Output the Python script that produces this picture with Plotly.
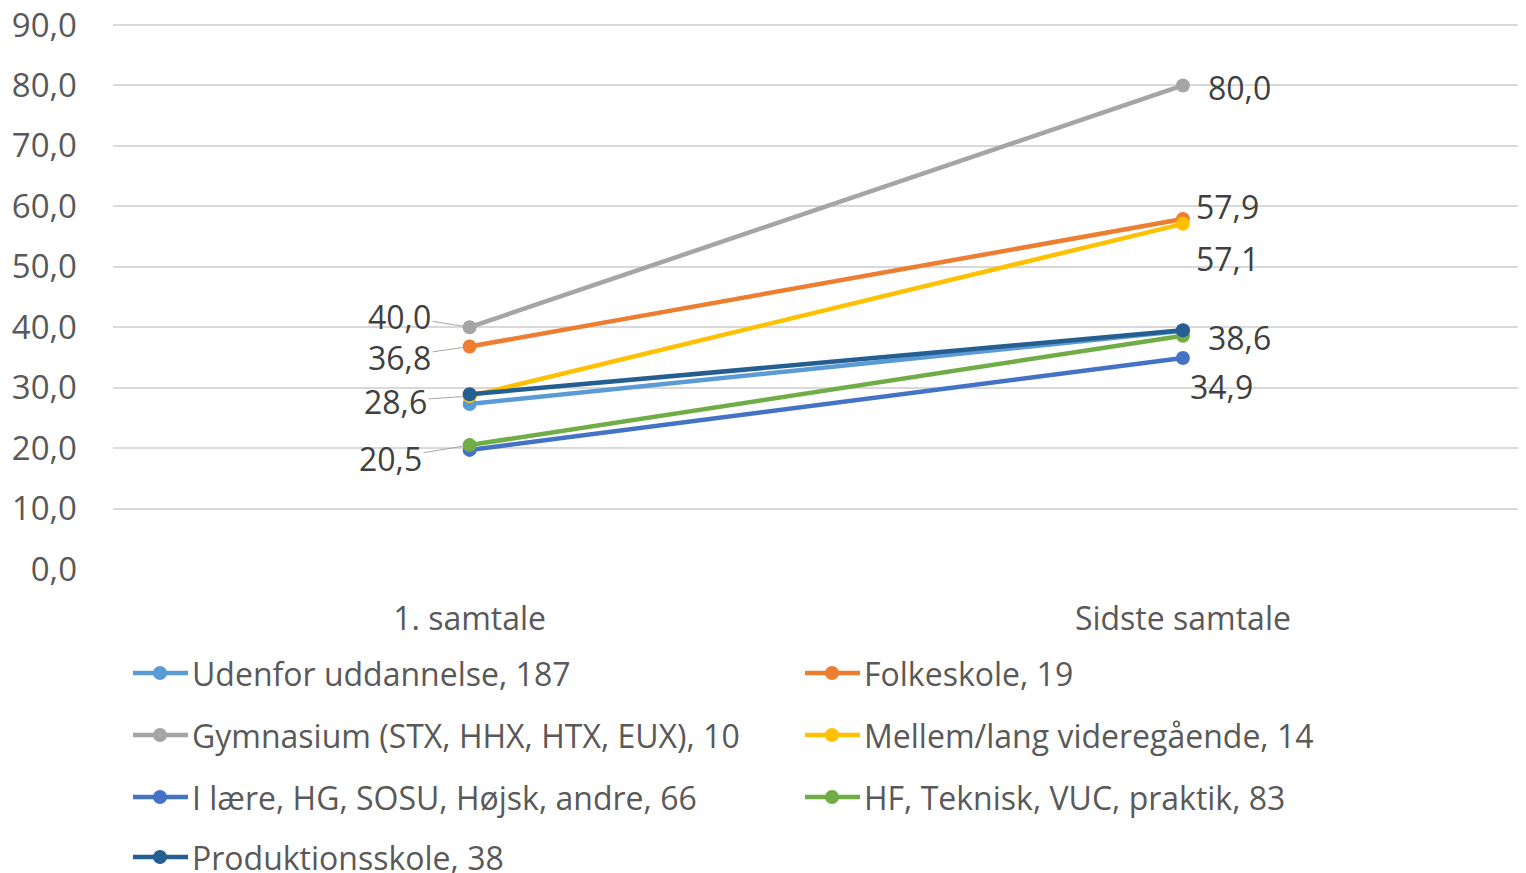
import plotly.graph_objects as go

categories = ["1. samtale", "Sidste samtale"]

series_names = [
    "Udenfor uddannelse, 187",
    "Folkeskole, 19",
    "Gymnasium (STX, HHX, HTX, EUX), 10",
    "Mellem/lang videregående, 14",
    "I lære, HG, SOSU, Højsk, andre, 66",
    "HF, Teknisk, VUC, praktik, 83",
    "Produktionsskole, 38",
]
udenfor = [27.3, 39.4]
folkeskole = [36.8, 57.9]
gymnasium = [40.0, 80.0]
mellem = [28.6, 57.1]
i_laere = [19.7, 34.9]
hf = [20.5, 38.6]
produktion = [28.9, 39.5]
series_values = [udenfor, folkeskole, gymnasium, mellem, i_laere, hf, produktion]
colors = ["#5B9BD5", "#ED7D31", "#A5A5A5", "#FFC000", "#4472C4", "#70AD47", "#255E91"]

y_ticks = [0, 10, 20, 30, 40, 50, 60, 70, 80, 90]
y_tick_labels = ["0,0", "10,0", "20,0", "30,0", "40,0", "50,0", "60,0", "70,0", "80,0", "90,0"]

FONT = "Open Sans"
FS = 32
TXT = "#595959"
LBL = "#404040"

# the page puts the plot 8px in from the top-left corner
OFF = 8
W, H = 1526 - OFF, 873 - OFF
ML, MR, MT, MB = 113 - OFF, 0, 23 - OFF, 304
PW, PH = W - ML - MR, H - MT - MB


def px_x(p):
    return (p - OFF - ML) / PW


def px_y(p):
    return (H - MB - (p - OFF)) / PH


fig = go.Figure()
for name, vals, col in zip(series_names, series_values, colors):
    fig.add_trace(go.Scatter(
        x=categories, y=vals, name=name, mode="lines+markers",
        line=dict(color=col, width=4.5),
        marker=dict(color=col, size=14),
        showlegend=False,
    ))


def fmt(v):
    return f"{v:.1f}".replace(".", ",")


# left labels with leader lines: (series index, ax, ay)
left_labels = [(2, -70, -11), (1, -70, 10), (3, -74, 5), (5, -79, 13)]
for idx, ax, ay in left_labels:
    fig.add_annotation(
        x=categories[0], y=series_values[idx][0], text=fmt(series_values[idx][0]),
        showarrow=True, arrowhead=0, arrowwidth=1, arrowcolor="#A6A6A6",
        ax=ax, ay=ay, standoff=7, height=36, valign="middle",
        font=dict(family=FONT, size=32, color=LBL),
    )

# right labels, no leader lines: (series index, xshift, yshift)
right_labels = [(2, 57, -2), (1, 45, 13), (3, 45, -35), (5, 57, -2), (4, 39, -28)]
for idx, xs, ys in right_labels:
    fig.add_annotation(
        x=categories[1], y=series_values[idx][1], text=fmt(series_values[idx][1]),
        showarrow=False, xshift=xs, yshift=ys,
        font=dict(family=FONT, size=32, color=LBL),
    )

# legend, two columns laid out like the original
col_x = [133, 805]
row_y = [673, 735, 797, 857]
for i, (name, col) in enumerate(zip(series_names, colors)):
    lx = col_x[i % 2]
    ly = px_y(row_y[i // 2])
    fig.add_shape(type="line", xref="paper", yref="paper",
                  x0=px_x(lx), x1=px_x(lx + 55), y0=ly, y1=ly,
                  line=dict(color=col, width=4.5))
    fig.add_shape(type="circle", xref="paper", yref="paper",
                  xsizemode="pixel", ysizemode="pixel",
                  xanchor=px_x(lx + 27), yanchor=ly,
                  x0=-7, x1=7, y0=-7, y1=7,
                  fillcolor=col, line=dict(color=col, width=0))
    fig.add_annotation(x=px_x(lx + 57), y=ly, xref="paper", yref="paper",
                       text=name, showarrow=False, xanchor="left", yanchor="middle",
                       font=dict(family=FONT, size=FS, color=TXT))

fig.update_layout(
    width=W, height=H,
    margin=dict(l=ML, r=MR, t=MT, b=MB),
    plot_bgcolor="white", paper_bgcolor="white",
    font=dict(family=FONT, size=FS, color=TXT),
    xaxis=dict(
        type="category", range=[-0.5, 1.481], showgrid=False, zeroline=False,
        showline=False, ticks="", ticklabelstandoff=28,
        tickfont=dict(family=FONT, size=FS, color=TXT),
    ),
    yaxis=dict(
        range=[0, 90.33], tickvals=y_ticks, ticktext=y_tick_labels,
        showgrid=True, gridcolor="#D9D9D9", gridwidth=1.5, zeroline=False,
        showline=False, ticks="", ticklabelstandoff=35,
        ticklabeloverflow="allow", automargin=False,
        tickfont=dict(family=FONT, size=33, color=TXT),
    ),
    showlegend=False,
)

fig.write_html("out.html")
